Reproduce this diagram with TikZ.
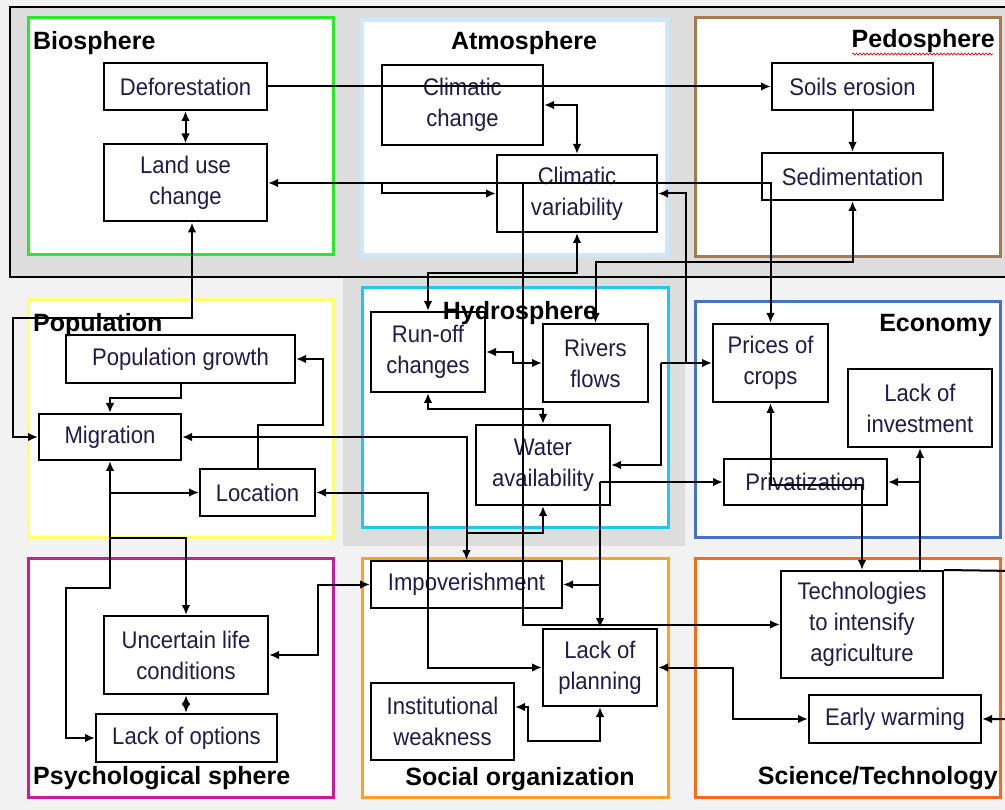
\documentclass[tikz,border=0pt]{standalone}
\usepackage{fontspec}
\setmainfont{Liberation Sans}
\newfontfamily\boxfont{Liberation Sans}[FakeStretch=0.92]
\usetikzlibrary{arrows.meta,calc,decorations.pathmorphing}
\definecolor{pagegray}{RGB}{242,242,242}
\definecolor{bandgray}{RGB}{221,221,221}
\definecolor{bioframe}{RGB}{40,235,40}
\definecolor{atmoframe}{RGB}{205,232,250}
\definecolor{pedoframe}{RGB}{165,122,80}
\definecolor{popframe}{RGB}{255,255,110}
\definecolor{hydroframe}{RGB}{30,200,240}
\definecolor{ecoframe}{RGB}{68,114,196}
\definecolor{psyframe}{RGB}{205,25,160}
\definecolor{socframe}{RGB}{255,160,30}
\definecolor{sciframe}{RGB}{255,105,20}
\definecolor{boxtext}{RGB}{35,25,75}

\begin{document}
\begin{tikzpicture}[x=1pt,y=-1pt,line join=miter,
  >={Latex[length=10pt,width=8.5pt]},
  box/.style={draw,line width=2pt,fill=white,align=center,inner sep=0pt,
    text=boxtext,font=\boxfont\fontsize{24}{31}\selectfont},
  sphere/.style={line width=3pt,fill=white},
  title/.style={font=\fontsize{25}{28}\selectfont\bfseries,inner sep=0pt},
  link/.style={line width=2pt}]
  \useasboundingbox (0,0) rectangle (1005,810);
  \clip (0,0) rectangle (1005,810);
  \fill[pagegray] (0,0) rectangle (1005,810);
  \draw[fill=bandgray,line width=1.6pt] (10,7) rectangle (1030,277);
  \fill[bandgray] (343,278) rectangle (685,546);
  % spheres
  \draw[sphere,draw=bioframe] (28,18) rectangle (333,255);
  \draw[sphere,draw=atmoframe,line width=4pt] (362,20) rectangle (667,255);
  \draw[sphere,draw=pedoframe] (695,18) rectangle (1000,257);
  \draw[sphere,draw=popframe] (28,300) rectangle (333,537);
  \draw[sphere,draw=hydroframe] (362,288) rectangle (668,527);
  \draw[sphere,draw=ecoframe] (695,302) rectangle (1000,537);
  \draw[sphere,draw=psyframe] (28,558) rectangle (333,797);
  \draw[sphere,draw=socframe] (362,558) rectangle (668,797);
  \draw[sphere,draw=sciframe] (695,558) rectangle (1000,797);
  % boxes
  \node[box,minimum width=163pt,minimum height=47pt] (defor) at (185.5,86.5) {Deforestation};
  \node[box,minimum width=163pt,minimum height=77pt] (landuse) at (185.5,183) {Land use\\change};
  \node[box,minimum width=161pt,minimum height=80pt] (climchg) at (462.5,105) {Climatic\\change};
  \node[box,minimum width=160pt,minimum height=77pt] (climvar) at (577,193.5) {Climatic\\variability};
  \node[box,minimum width=161pt,minimum height=47pt] (soils) at (852.5,86.5) {Soils erosion};
  \node[box,minimum width=181pt,minimum height=47pt] (sedim) at (852.5,176.5) {Sedimentation};
  \node[box,minimum width=229pt,minimum height=48pt] (popgrowth) at (180.5,359) {Population growth};
  \node[box,minimum width=142pt,minimum height=46pt] (migration) at (110,437) {Migration};
  \node[box,minimum width=115pt,minimum height=47pt] (location) at (257.5,492.5) {Location};
  \node[box,minimum width=114pt,minimum height=80pt] (runoff) at (428,352) {Run-off\\changes};
  \node[box,minimum width=105pt,minimum height=78pt] (rivers) at (595.5,363) {Rivers\\flows};
  \node[box,minimum width=134pt,minimum height=80pt] (water) at (543,465) {Water\\availability};
  \node[box,minimum width=115pt,minimum height=78pt] (prices) at (770.5,363) {Prices of\\crops};
  \node[box,minimum width=144pt,minimum height=78pt] (lackinv) at (920,408) {Lack of\\investment};
  \node[box,minimum width=163pt,minimum height=46pt] (privat) at (805.5,482) {Privatization};
  \node[box,minimum width=191pt,minimum height=47pt] (impov) at (466.5,584.5) {Impoverishment};
  \node[box,minimum width=114pt,minimum height=77pt] (lackplan) at (600,667.5) {Lack of\\planning};
  \node[box,minimum width=143pt,minimum height=77pt] (instit) at (442.5,721.5) {Institutional\\weakness};
  \node[box,minimum width=164pt,minimum height=78pt] (uncertain) at (186,655) {Uncertain life\\conditions};
  \node[box,minimum width=181pt,minimum height=48pt] (lackopt) at (186.5,738) {Lack of options};
  \node[box,minimum width=162pt,minimum height=107pt] (techno) at (862,624.5) {Technologies\\to intensify\\agriculture};
  \node[box,minimum width=172pt,minimum height=48pt] (earlywarn) at (895,719) {Early warming};
  % titles
  \node[title,anchor=base west] (biotitle) at (33,50) {Biosphere};
  \node[title,anchor=base] (atmotitle) at (524,50) {Atmosphere};
  \node[title,anchor=base east] (pedotitle) at (995,48) {Pedosphere};
  \draw[red,line width=0.7pt,decorate,decoration={snake,amplitude=1pt,segment length=3.5pt}]
    (852,54) -- (993,54);
  \node[title,anchor=base west] (poptitle) at (33,332) {Population};
  \node[title,anchor=base] (hydrotitle) at (520,320) {Hydrosphere};
  \node[title,anchor=base east] (ecotitle) at (992,332) {Economy};
  \node[title,anchor=base west] (psytitle) at (33,784) {Psychological sphere};
  \node[title,anchor=base] (soctitle) at (520,785) {Social organization};
  \node[title,anchor=base east] (scititle) at (998,784) {Science/Technology};
  % links
  \draw[link,<->] (defor) -- (landuse);
  \draw[link,->] (defor) -- (soils);
  \draw[link,<->] (climchg.east) -| (climvar.north);
  \draw[link,->] (soils) -- (sedim);
  \draw[link,<->] (landuse.east) -| (prices.north);
  \draw[link,->] (382,183) |- (climvar.west);
  \draw[link,->] (523,183) |- (techno.west);
  \draw[link,<->] (runoff.north) |- (577,273) -- (climvar.south);
  \draw[link,<->] (rivers.north) -- ++(0,-61) -| (sedim.south);
  \draw[link,<->] (runoff.east) -- (513,352) |- (rivers.west);
  \draw[link,<->] (runoff.south) -- ++(0,16) -| (water.north);
  \draw[link,<-] (climvar.east) -| (686,363);
  \draw[link,->] (661,363) -- (prices.west);
  \draw[link,->] (661,363) |- (water.east);
  \draw[link,<->] (migration.east) -| (impov.north);
  \draw[link,->] (466.5,533) -| (water.south);
  \draw[link,<->] (location.east) -- (428,492.5) |- (lackplan.west);
  \draw[link,->] (600,482) -- (privat.west);
  \draw[link,->] (600,482) -- (lackplan.north);
  \draw[link,->] (600,584.5) -- (impov.east);
  \draw[link,<->] (prices.south) |- (862,485) -- (techno.north);
  \draw[link,->] (920,571) -- (lackinv.south);
  \draw[link,->] (920,482) -- (privat.east);
  \draw[link,->] (techno.north east) -- (1015,571) |- (earlywarn.east);
  \draw[link,<->] (lackplan.east) -- (733,667.5) |- (earlywarn.west);
  \draw[link,<->] ($(instit.east)+(0,-14.5)$) -- (528,707) |- ($(lackplan.south)+(0,34)$)
    -- (lackplan.south);
  \draw[link,<->] (impov.west) -- (318,584.5) |- (uncertain.east);
  \draw[link,<->] (uncertain.south) -- (uncertain.south |- lackopt.north);
  \draw[link,<->] ($(landuse.south)+(6.5,0)$) |- (13,318) |- (migration.west);
  \draw[link,->] (popgrowth.south) -- ++(0,14) -| (migration.north);
  \draw[link,->] (location.north) |- (323,425) |- (popgrowth.east);
  \draw[link,<->] (migration.south) |- (66,588) |- (lackopt.west);
  \draw[link,->] (110,492.5) -- (location.west);
  \draw[link,->] (110,538) -| (uncertain.north);
\end{tikzpicture}
\end{document}
